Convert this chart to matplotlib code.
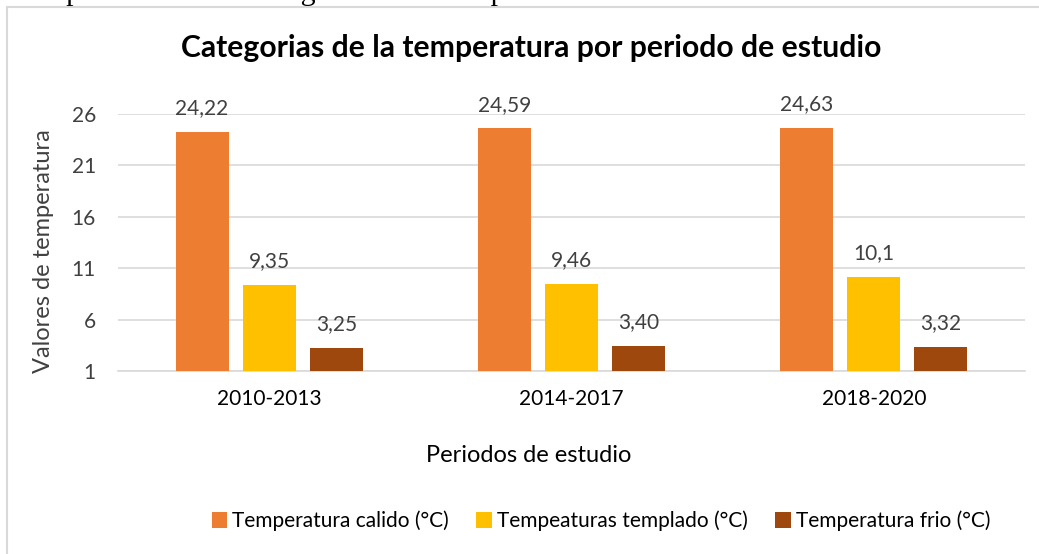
import matplotlib
matplotlib.use("Agg")
import matplotlib.pyplot as plt
import numpy as np
from matplotlib.lines import Line2D

periods = ["2010-2013", "2014-2017", "2018-2020"]
series_names = ["Temperatura calido (°C)", "Tempeaturas templado (°C)", "Temperatura frio (°C)"]
calido = [24.22, 24.59, 24.63]
templado = [9.35, 9.46, 10.1]
frio = [3.25, 3.40, 3.32]
calido_lbl = ["24,22", "24,59", "24,63"]
templado_lbl = ["9,35", "9,46", "10,1"]
frio_lbl = ["3,25", "3,40", "3,32"]
yticks = [1, 6, 11, 16, 21, 26]

colors = ["#ED7D31", "#FFC000", "#9E480E"]
W, H = 1039, 554
fig = plt.figure(figsize=(W / 100, H / 100), dpi=100)
plt.rcParams['font.family'] = ['Lato', 'DejaVu Sans']

# outer chart border (top and left visible)
fig.add_artist(Line2D([6.5 / W, 1.0], [1 - 6.5 / H, 1 - 6.5 / H], transform=fig.transFigure, color="#D9D9D9", lw=1.5))
fig.add_artist(Line2D([6.5 / W, 6.5 / W], [0, 1 - 6.5 / H], transform=fig.transFigure, color="#D9D9D9", lw=1.5))

# caption from the document above, clipped by the image edge
fig.text(8 / W, 1 + 0.5 / H, "Comparación de las categorías de la temperatura", family="Liberation Serif",
         fontsize=21.5, va="baseline", ha="left", color="#000000")

ax = fig.add_axes([118 / W, 1 - 371 / H, (1025 - 118) / W, (371 - 114) / H])
x = np.arange(len(periods))
bw = 0.175
off = 0.222
data = [calido, templado, frio]
labels = [calido_lbl, templado_lbl, frio_lbl]
for i, (vals, lbls) in enumerate(zip(data, labels)):
    pos = x + (i - 1) * off
    ax.bar(pos, np.array(vals) - 1, bottom=1, width=bw, color=colors[i], label=series_names[i], zorder=3)
    for p, v, l in zip(pos, vals, lbls):
        ax.annotate(l, (p, v), xytext=(0, 10), textcoords="offset points", ha="center", va="bottom",
                    fontsize=15, color="#404040", annotation_clip=False)

ax.set_xlim(-0.5, 2.5)
ax.set_ylim(1, 26)
ax.set_yticks(yticks)
ax.set_yticklabels([str(t) for t in yticks])
ax.grid(axis="y", color="#D9D9D9", lw=1.2, zorder=0)
for s in ["top", "right", "left"]:
    ax.spines[s].set_visible(False)
ax.spines["bottom"].set_color("#D9D9D9")
ax.spines["bottom"].set_linewidth(1.2)
ax.tick_params(axis="both", length=0, labelsize=15, labelcolor="#404040")
ax.tick_params(axis="y", pad=16)
ax.tick_params(axis="x", pad=13, labelcolor="#000000")
ax.set_xticks(x)
ax.set_xticklabels(periods)

fig.text(529 / W, 1 - 455 / H, "Periodos de estudio", fontsize=17, color="#000000", ha="center", va="center")
fig.text(44 / W, 1 - 251 / H, "Valores de temperatura", fontsize=17, color="#404040", ha="center", va="center",
         rotation=90)

fig.text(531 / W, 1 - 48 / H, "Categorias de la temperatura por periodo de estudio", fontsize=21.7,
         fontweight="bold", ha="center", va="center", color="#000000")

fig.legend(loc="center", bbox_to_anchor=(601 / W, 1 - 521 / H), ncol=3, frameon=False, fontsize=15,
           handlelength=0.75, handleheight=0.75, handletextpad=0.25, columnspacing=1.3)

fig.savefig("out.png", dpi=100, facecolor="white")
